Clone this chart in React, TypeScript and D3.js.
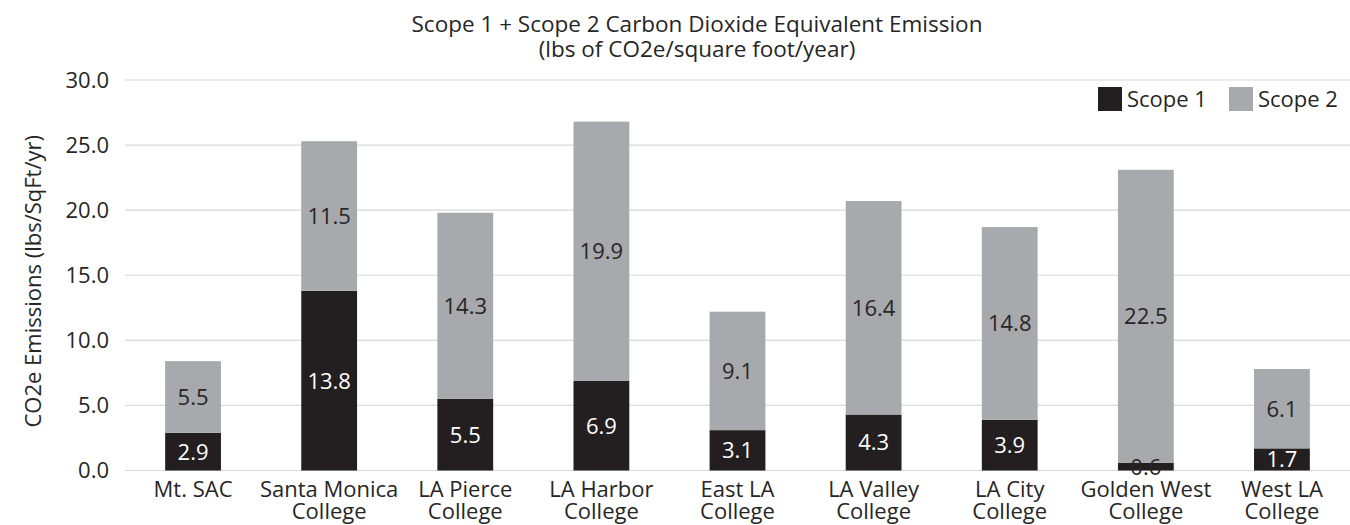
import React from "react";
import * as d3 from "d3";

const categories: string[][] = [
  ["Mt. SAC"],
  ["Santa Monica", "College"],
  ["LA Pierce", "College"],
  ["LA Harbor", "College"],
  ["East LA", "College"],
  ["LA Valley", "College"],
  ["LA City", "College"],
  ["Golden West", "College"],
  ["West LA", "College"],
];
const scope1: number[] = [2.9, 13.8, 5.5, 6.9, 3.1, 4.3, 3.9, 0.6, 1.7];
const scope2: number[] = [5.5, 11.5, 14.3, 19.9, 9.1, 16.4, 14.8, 22.5, 6.1];
const yTicks: number[] = [0, 5, 10, 15, 20, 25, 30];
const seriesNames: string[] = ["Scope 1", "Scope 2"];
const titleLines: string[] = [
  "Scope 1 + Scope 2 Carbon Dioxide Equivalent Emission",
  "(lbs of CO2e/square foot/year)",
];
const yTitle = "CO2e Emissions (lbs/SqFt/yr)";

const W = 1350;
const H = 525;
const FONT = "'Open Sans', Lato, sans-serif";
const DARK = "#231f20";
const GRAY = "#a7a9ac";
const TEXT = "#262626";
const FS = 22;

export default function App() {
  const left = 125;
  const right = 1350;
  const top = 80;
  const bottom = 470.5;
  const keys = categories.map((c) => c.join(" "));
  const x = d3.scaleBand<string>().domain(keys).range([left, right]).paddingInner(0.59).paddingOuter(0.295);
  const y = d3.scaleLinear().domain([0, 30]).range([bottom, top]);
  const bw = x.bandwidth();
  const fmt = d3.format(".1f");

  return (
    <div style={{ position: "fixed", left: 0, top: 0, width: W, height: H, overflow: "hidden" }}>
      <svg width={W} height={H} style={{ display: "block", fontFamily: FONT }}>
        <rect width={W} height={H} fill="#fff" />
        {titleLines.map((t, i) => (
          <text key={i} x={697} y={32 + i * 25} textAnchor="middle" fontSize={22.5} fill={TEXT}>
            {t}
          </text>
        ))}
        {yTicks.map((t) => (
          <g key={t}>
            <line x1={left} x2={right} y1={y(t)} y2={y(t)} stroke="#d9d9d9" strokeWidth={1.2} />
            <text x={109} y={y(t)} dy="0.36em" textAnchor="end" fontSize={FS} fill={TEXT}>
              {fmt(t)}
            </text>
          </g>
        ))}
        <text
          transform={`translate(33,${(top + bottom) / 2 + 6}) rotate(-90)`}
          textAnchor="middle"
          dy="0.36em"
          fontSize={FS}
          fill={TEXT}
        >
          {yTitle}
        </text>
        {keys.map((k, i) => {
          const x0 = x(k)!;
          const s1 = scope1[i];
          const s2 = scope2[i];
          const y1 = y(s1);
          const y2 = y(s1 + s2);
          const cx = x0 + bw / 2;
          const small1 = y(0) - y1 < 14;
          return (
            <g key={k}>
              <rect x={x0} y={y1} width={bw} height={y(0) - y1} fill={DARK} />
              <rect x={x0} y={y2} width={bw} height={y1 - y2} fill={GRAY} />
              <text x={cx} y={(y1 + y2) / 2} dy="0.36em" textAnchor="middle" fontSize={FS} fill={TEXT}>
                {fmt(s2)}
              </text>
              <text
                x={cx}
                y={(y(0) + y1) / 2}
                dy="0.36em"
                textAnchor="middle"
                fontSize={FS}
                fill={small1 ? TEXT : "#fff"}
              >
                {fmt(s1)}
              </text>
              {categories[i].map((line, j) => (
                <text key={j} x={cx} y={497 + j * 22} textAnchor="middle" fontSize={FS} fill={TEXT}>
                  {line}
                </text>
              ))}
            </g>
          );
        })}
        {seriesNames.map((s, i) => {
          const lx = [1098, 1229][i];
          return (
            <g key={s}>
              <rect x={lx} y={87} width={24} height={24} fill={i === 0 ? DARK : GRAY} />
              <text x={lx + 29} y={107} fontSize={FS} fill={TEXT}>
                {s}
              </text>
            </g>
          );
        })}
      </svg>
    </div>
  );
}
